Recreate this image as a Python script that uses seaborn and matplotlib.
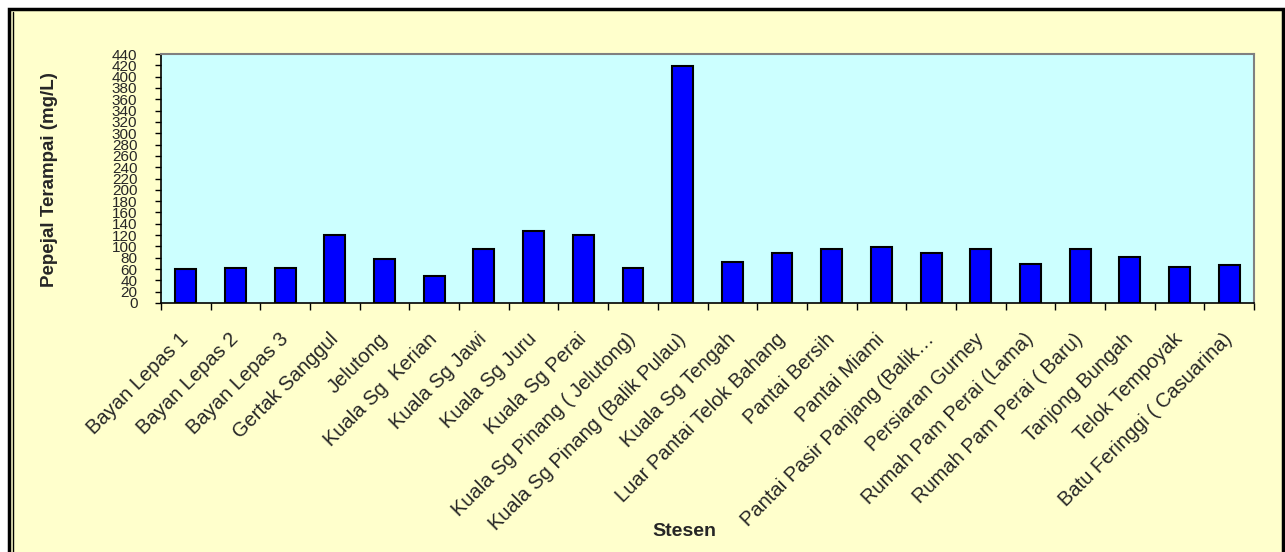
import pandas as pd
import matplotlib.pyplot as plt
import seaborn as sns
import numpy as np
from matplotlib.patches import Rectangle

# data
stesen = [
    'Bayan Lepas 1', 'Bayan Lepas 2', 'Bayan Lepas 3', 'Gertak Sanggul',
    'Jelutong', 'Kuala Sg  Kerian', 'Kuala Sg Jawi', 'Kuala Sg Juru',
    'Kuala Sg Perai', 'Kuala Sg Pinang ( Jelutong)', 'Kuala Sg Pinang (Balik Pulau)',
    'Kuala Sg Tengah', 'Luar Pantai Telok Bahang', 'Pantai Bersih', 'Pantai Miami',
    'Pantai Pasir Panjang (Balik…', 'Persiaran Gurney', 'Rumah Pam Perai (Lama)',
    'Rumah Pam Perai ( Baru)', 'Tanjong Bungah', 'Telok Tempoyak',
    'Batu Feringgi ( Casuarina)',
]
pepejal = [60, 62, 62, 120, 78, 47, 95, 127, 120, 62, 418,
           72, 89, 95, 99, 89, 95, 69, 95, 82, 63, 67]
y_ticks = list(range(0, 441, 20))

df = pd.DataFrame({'Stesen': stesen, 'Pepejal': pepejal})

sns.set_theme(style="white")
plt.rcParams['font.family'] = ['Liberation Sans', 'DejaVu Sans']

fig = plt.figure(figsize=(12.85, 5.52), dpi=100)
fig.patch.set_facecolor('white')

# outer chart frame (Excel style), kept behind the axes
frame = Rectangle((9 / 1285, -0.02), 1274 / 1285, 1 - 9 / 552 + 0.02,
                  transform=fig.transFigure, facecolor='#FFFFCC',
                  edgecolor='black', linewidth=2.5, zorder=-10)
fig.patches.append(frame)
fig.lines.append(plt.Line2D([12.5 / 1285, 12.5 / 1285], [0, 1 - 12 / 552],
                            transform=fig.transFigure, color='black', lw=1, zorder=-9))

ax = fig.add_axes([161 / 1285, 1 - 303 / 552, (1254 - 161) / 1285, (303 - 54) / 552])
ax.set_facecolor('#CCFFFF')

sns.barplot(data=df, x='Stesen', y='Pepejal', color='#0000FF', saturation=1,
            width=0.42, edgecolor='black', linewidth=1.5, ax=ax)

ax.set_ylim(0, 440)
ax.set_xlim(-0.5, len(stesen) - 0.5)
ax.set_yticks(y_ticks)
ax.set_yticklabels([str(v) for v in y_ticks], fontsize=11)
ax.tick_params(axis='y', direction='out', length=4, width=1, color='black', pad=13, left=True)

# labels at centres, tick marks between categories
ax.set_xticks(range(len(stesen)))
ax.set_xticklabels(stesen, rotation=45, ha='right', va='center',
                   rotation_mode='anchor', fontsize=14.5)
ax.tick_params(axis='x', length=0, pad=24)
ax.set_xticks(np.arange(-0.5, len(stesen)), minor=True)
ax.tick_params(axis='x', which='minor', direction='out', length=5, width=1,
               color='black', bottom=True)

for side in ['left', 'bottom']:
    ax.spines[side].set_color('black')
    ax.spines[side].set_linewidth(1.2)
for side in ['top', 'right']:
    ax.spines[side].set_color('#808080')
    ax.spines[side].set_linewidth(1.5)

ax.set_xlabel('')
ax.set_ylabel('')
fig.text(684 / 1285, 1 - 531 / 552, 'Stesen', fontsize=14, fontweight='bold',
         ha='center', va='center')
fig.text(50 / 1285, 1 - 180 / 552, 'Pepejal Terampai (mg/L)', fontsize=13.5,
         fontweight='bold', rotation=90, ha='center', va='center')

fig.savefig('out.png', dpi=100, facecolor=fig.get_facecolor())
